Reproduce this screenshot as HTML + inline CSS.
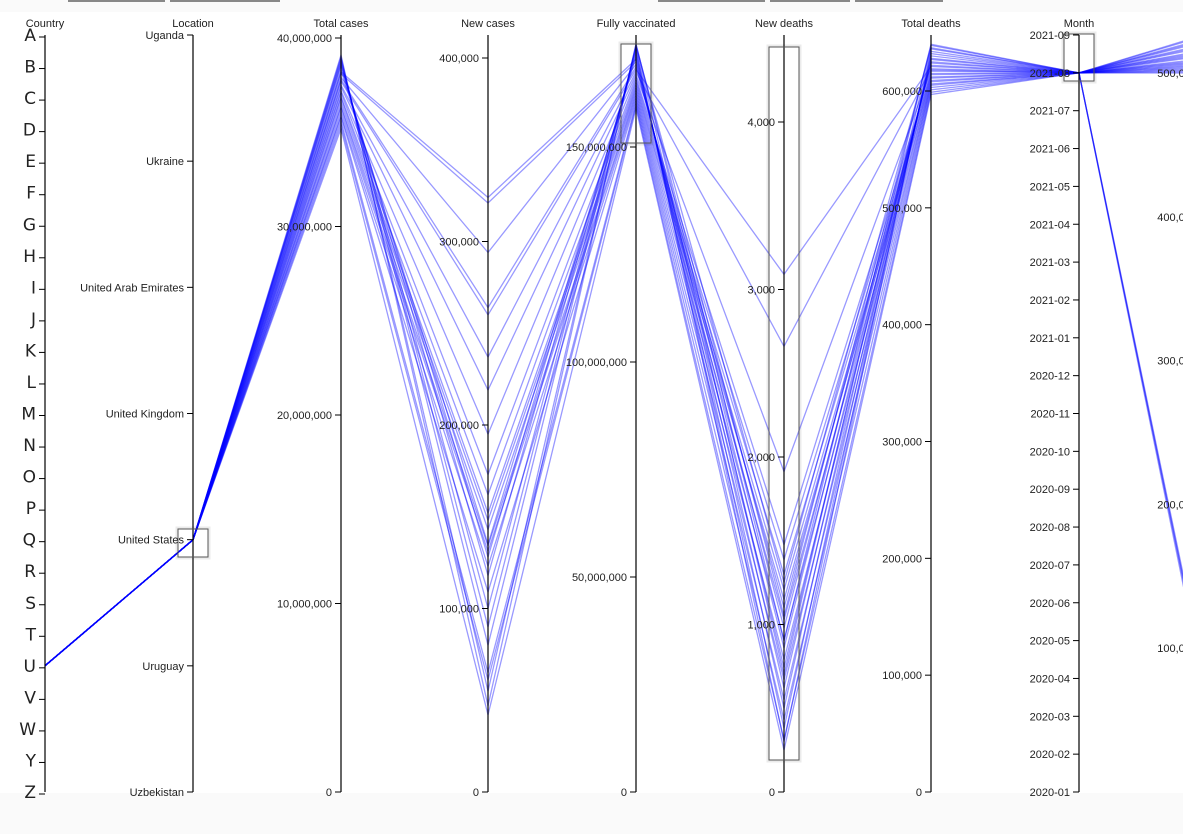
<!DOCTYPE html>
<html><head><meta charset="utf-8">
<style>
html,body{margin:0;padding:0;background:#fafafa;width:1183px;height:834px;overflow:hidden;font-family:"Liberation Sans",sans-serif}
#wrap{position:absolute;left:0;top:12px;width:1183px;height:781px;background:#fff}
.btn{position:absolute;top:0;height:2px;background:#888}
svg{position:absolute;left:0;top:0}
text{font-family:"Liberation Sans",sans-serif;font-size:11px;fill:#222}
</style></head><body>
<div class="btn" style="left:68px;width:97px"></div>
<div class="btn" style="left:170px;width:110px"></div>
<div class="btn" style="left:658px;width:107px"></div>
<div class="btn" style="left:770px;width:80px"></div>
<div class="btn" style="left:855px;width:88px"></div>
<div id="wrap"></div>
<svg id="chart" width="1183" height="834"></svg>
<script>
const countries = "ABCDEFGHIJKLMNOPQRSTUVWYZ".split("");
const locations = ["Uganda","Ukraine","United Arab Emirates","United Kingdom","United States","Uruguay","Uzbekistan"];
const months = ["2020-01","2020-02","2020-03","2020-04","2020-05","2020-06","2020-07","2020-08","2020-09","2020-10","2020-11","2020-12","2021-01","2021-02","2021-03","2021-04","2021-05","2021-06","2021-07","2021-08","2021-09"];
const totalCases = [35.2,35.4,35.6,35.8,35.9,36.1,36.3,36.4,36.6,36.8,36.9,37.1,37.2,37.4,37.5,37.7,37.8,37.9,38.1,38.2,38.3,38.5,38.6,38.7,38.8,38.9,39.0,39.1];
const newCases = [42,61,65,109,123,131,134,143,148,152,162,173,195,219,237,260,264,294,321,324,135,128,118,100,90,80,55,47];
const vaccinated = [159,159.6,160.2,160.8,161.4,162,162.6,163.2,163.8,164.4,165,165.6,166.2,166.8,167.4,168,168.6,169.2,169.8,170.4,171,171.6,172.2,172.8,173.2,173.5,173.8,174];
const newDeaths = [251,311,430,550,670,789,909,1028,1148,1207,1297,1387,1476,1913,2660,3090,1100,980,860,740,620,500,380,300,700,1250,1050,900];
const totalDeaths = [597,599,601,603,605,606,608,609,611,612,614,615,617,618,619,621,622,624,625,627,628,630,632,634,636,637,639,640];
const lastVals = [66,70,72,75,500,501,502,503,504,505,506,507,508,509,510,512,513,514,515,516,518,519,520,522,523,524,526,527];
const recCountry = "U", recLocation = "United States", recMonth = "2021-08";

const NS="http://www.w3.org/2000/svg";
const svg=document.getElementById("chart");
const TOP=35,BOT=792;
const AX=[45,193,341,488,636,784,931,1079,1206];
function el(tag,attrs,parent){const e=document.createElementNS(NS,tag);for(const k in attrs)e.setAttribute(k,attrs[k]);(parent||svg).appendChild(e);return e;}
const lin=(max,yTop)=>v=>BOT-(v/max)*(BOT-yTop);
const yCountry=c=>TOP+countries.indexOf(c)*(BOT-TOP)/(countries.length-1);
const yLoc=l=>TOP+locations.indexOf(l)*(BOT-TOP)/(locations.length-1);
const yMonth=m=>BOT-months.indexOf(m)*(BOT-TOP)/(months.length-1);
const yCases=lin(40,38), yNew=lin(400,58), yVac=lin(150,147), yND=lin(4000,122), yTD=lin(600,91), yLast=lin(500,73);

const lg=el("g",{});


for(let i=0;i<totalCases.length;i++){
  const ys=[yCountry(recCountry),yLoc(recLocation),yCases(totalCases[i]),yNew(newCases[i]),yVac(vaccinated[i]),yND(newDeaths[i]),yTD(totalDeaths[i]),yMonth(recMonth),yLast(lastVals[i])];
  const p=el("polyline",{points:ys.map((y,j)=>AX[j]+","+y.toFixed(1)).join(" "),fill:"none",stroke:"#0000ff","stroke-opacity":"0.4","stroke-width":"1.3"},lg);
  
  
}

function axis(idx,title,ticks,name,big){
  const g=el("g",{});
  
  
  const x=AX[idx];
  el("line",{x1:x,y1:TOP,x2:x,y2:BOT,stroke:"#000","stroke-width":1.2},g);
  const t=el("text",{x:x,y:27,"text-anchor":"middle"},g);t.textContent=title;
  
  
  ticks.forEach(([y,lab])=>{
    el("line",{x1:x-6,y1:y,x2:x,y2:y,stroke:"#000"},g);
    const tt=el("text",{x:x-9,y:y+4,"text-anchor":"end",style:big?"font-size:17px;font-family:'DejaVu Sans',sans-serif":""},g);
    tt.textContent=lab;
    
    
  });
}
const fmt=n=>n.toLocaleString("en-US");
axis(0,"Country",countries.map(c=>[yCountry(c)+2,c]),"country",true);
axis(1,"Location",locations.map(l=>[yLoc(l),l]),"location");
axis(2,"Total cases",[0,10,20,30,40].map(v=>[yCases(v),fmt(v*1e6)]),"total-cases");
axis(3,"New cases",[0,100,200,300,400].map(v=>[yNew(v),fmt(v*1000)]),"new-cases");
axis(4,"Fully vaccinated",[0,50,100,150].map(v=>[yVac(v),fmt(v*1e6)]),"fully-vaccinated");
axis(5,"New deaths",[0,1000,2000,3000,4000].map(v=>[yND(v),fmt(v)]),"new-deaths");
axis(6,"Total deaths",[0,100,200,300,400,500,600].map(v=>[yTD(v),fmt(v*1000)]),"total-deaths");
axis(7,"Month",months.map(m=>[yMonth(m),m]),"month");
axis(8,"",[100,200,300,400,500].map(v=>[yLast(v),fmt(v*1000)]),"extra");

[[178,529,30,28,"location-brush"],[621,44,30,99,"vaccinated-brush"],[769,47,30,713,"new-deaths-brush"],[1064,34,30,47,"month-brush"]].forEach(b=>{
  el("rect",{x:b[0]-1,y:b[1]-1,width:b[2]+2,height:b[3]+2,fill:"none",stroke:"rgba(0,0,0,0.08)","stroke-width":3});
  const r=el("rect",{x:b[0],y:b[1],width:b[2],height:b[3],fill:"none",stroke:"#555","stroke-width":1});
  
  
});
</script>
</body></html>
